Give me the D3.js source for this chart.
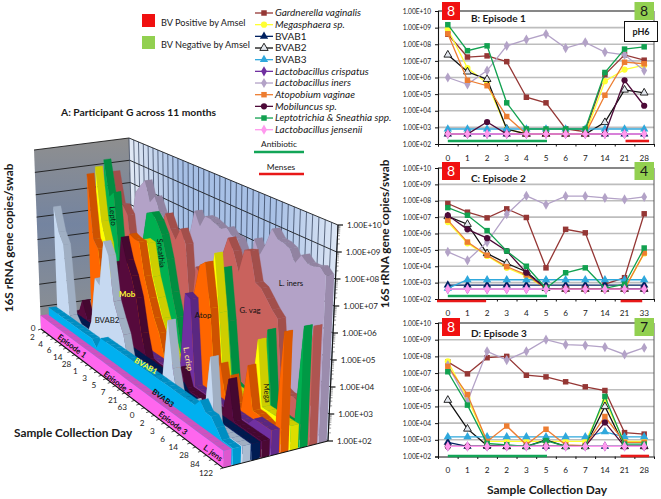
<!DOCTYPE html>
<html>
<head>
<meta charset="utf-8">
<script src="https://cdnjs.cloudflare.com/ajax/libs/d3/7.8.5/d3.min.js"></script>
<style>
  body { margin: 0; background: #fff; }
  svg { display: block; }
  text { font-family: Lato, "Open Sans", sans-serif; fill: #1a1a1a; }
</style>
</head>
<body>
<svg width="661" height="499"></svg>
<script>
// sampling days of all three episodes, one after the other
const days = [0,1,2,3,4,5,6,7,14,21,28, 0,1,2,3,4,5,6,7,14,21,33, 63,70, 0,1,2,2,3,5,6,7,14,21,28, 56,84,98,122];

// 16S copies per swab, same index as days
const gard  = [4e8,1.7e7,2e7,9e6,6.5e4,3e4,800,550,1.5e6,2.3e7,1.1e7, 6.8e7,2e7,9e6,3.2e7,9.5e6,8e3,1.8e6,1.1e6,800,2e3,1.6e7, 2e7,1.2e8, 4.7e7,9e6,8.3e7,1e8,7.4e6,5.9e6,3e6,1.5e6,9e5,2.7e3,2.2e3, 2.5e3,2e3,2e3,2.5e6];
const mega  = [8e8,3.7e6,4.5e5,800,400,400,400,400,6e5,3e6,5.5e6, 5e6,2.5e5,4.3e4,8e3,2.5e3,450,400,400,400,400,6e4, 1e3,1e6, 5e7,3e5,800,800,800,800,800,800,2e5,800,800, 800,800,800,800];
const bvab1 = [400,400,400,400,400,400,400,400,400,400,400, 700,700,700,700,700,700,700,700,700,700,700, 600,600, 700,400,400,400,400,400,400,400,400,400,400, 400,400,400,400];
const bvab2 = [2.3e7,2.2e6,7.8e5,800,400,400,400,400,2e3,1.8e5,1.2e5, 1.1e7,3.7e6,6e4,1.5e4,4.6e3,450,400,400,400,400,400, 400,1e3, 2.4e5,4.5e3,450,400,400,1e3,400,400,1e5,400,400, 400,400,400,400];
const bvab3 = [800,800,800,800,800,800,800,800,800,800,800, 450,1500,1500,1500,1500,1500,1500,1500,1500,1500,1500, 1500,1500, 1500,1500,1500,1500,1500,1500,1500,1500,3e3,1500,1500, 800,400,400,400];
const crisp = [400,400,400,400,400,400,400,400,400,400,400, 400,400,400,400,400,400,400,400,400,400,400, 1e6,8e5, 400,400,400,400,400,400,400,400,400,400,400, 800,800,800,800];
const iners = [1e6,3.9e5,2.6e6,8e7,1.9e8,4.1e8,5.9e7,1.3e8,3.4e7,2.3e7,2.6e6, 7.5e4,2.3e4,3e5,1.5e7,2e8,5.8e7,1.9e8,1.9e8,1.5e8,1.2e8,1.7e8, 1e8,1e8, 3e7,2e5,2e8,6e7,2e8,1e9,5e8,4.6e8,3.6e8,1.3e8,3.3e8, 2e8,2e8,2.5e8,1.5e8];
const atop  = [4.3e8,6.8e5,3.2e5,4.5e3,400,400,400,400,8.6e4,8.3e6,6.7e6, 6.5e6,3e5,4.7e4,9.5e3,3e3,450,400,400,400,400,6.5e4, 1e6,1.5e7, 2.5e7,5.2e5,800,6.7e3,500,4.3e3,500,450,2.5e4,700,700, 600,500,500,2.5e6];
const mob   = [400,400,2.1e3,400,400,400,400,400,400,6.8e5,2e4, 1.3e7,1.8e6,5.2e5,8.5e4,4e3,450,400,400,400,400,400, 800,2e3, 400,400,400,400,400,400,400,400,1.1e4,400,400, 400,400,400,400];
const lepto = [1.5e9,4.1e7,8e7,3e4,800,800,800,800,2e6,5.1e7,7e7, 3.8e7,1.3e7,1.5e6,8.5e4,1e4,450,4e3,8e3,450,800,1.3e5, 1e4,1e6, 1.2e7,1.2e5,600,500,400,900,400,400,4e5,550,550, 500,500,500,2.9e6];
const jens  = [400,400,400,400,400,400,400,400,400,400,400, 400,400,400,400,400,400,400,400,400,400,400, 400,400, 400,400,400,400,400,400,400,400,400,400,400, 400,400,400,400];

const legendNames = ["Gardnerella vaginalis","Megasphaera sp.","BVAB1","BVAB2","BVAB3","Lactobacillus crispatus","Lactobacillus iners","Atopobium vaginae","Mobiluncus sp.","Leptotrichia & Sneathia spp.","Lactobacillus jensenii"];
const legendItalic = [true,true,false,false,false,true,true,true,true,true,true];
const lineValues = [gard,mega,bvab1,bvab2,bvab3,crisp,iners,atop,mob,lepto,jens];
const lineColors = ["#953735","#ffff33","#002060","#111111","#2fa8dc","#7030a0","#b3a2c7","#ed7d31","#4d0a38","#12a150","#ff99ee"];
const lineSymbols = [d3.symbolSquare,d3.symbolCircle,d3.symbolTriangle,d3.symbolTriangle,d3.symbolTriangle,d3.symbolDiamond,d3.symbolDiamond,d3.symbolSquare,d3.symbolCircle,d3.symbolSquare,d3.symbolDiamond];

// 3D area chart, front row first
const areaValues = [jens,bvab3,bvab2,bvab1,mob,crisp,atop,mega,lepto,gard,iners];
const areaColors = ["#ff66ee","#00b0f0","#c6d9f1","#002060","#560a3c","#7030a0","#ff6600","#ffff00","#00b050","#c9625d","#b3a2c7"];
const areaNames = ["jens","bvab3","bvab2","bvab1","mob","crisp","atop","mega","lepto","gard","iners"];

const decades = [1e2,1e3,1e4,1e5,1e6,1e7,1e8,1e9,1e10];
const sci = d => { const e = Math.round(Math.log10(d)); return "1.00E+" + (e < 10 ? "0" + e : e); };

const svg = d3.select("svg");
const defs = svg.append("defs");

// ---------- 3D chart ----------
// box corners in the picture
const box = {
  floorL: [41,329], floorF: [223,468], floorR: [328,441], floorB: [134,316],
  topL: [34,150], topF: [228,240], topR: [338,225], topB: [129,138]
};
const scDay = d3.scaleLinear().domain([0, days.length - 1]).range([0, 1]);
const scRow = d3.scaleBand().domain(areaNames).range([0, 1]);
const scLog = d3.scaleLog().domain([1e2, 1e10]).range([0, 1]);
const persp = 1.17;

function lerp(a, b, t) { return [a[0] + (b[0] - a[0]) * t, a[1] + (b[1] - a[1]) * t]; }

// u along days, v into the depth, w up
function project(u, v, w) {
  const f = u / (u + persp * (1 - u));
  const low = lerp(lerp(box.floorL, box.floorF, f), lerp(box.floorB, box.floorR, f), v);
  const high = lerp(lerp(box.topL, box.topF, f), lerp(box.topB, box.topR, f), v);
  return lerp(low, high, w);
}
const poly = d3.line();

const wallL = defs.append("linearGradient").attr("id", "wallL").attr("x1", 0).attr("y1", 0).attr("x2", 0).attr("y2", 1);
wallL.append("stop").attr("offset", 0).attr("stop-color", "#8f8f8f");
wallL.append("stop").attr("offset", .45).attr("stop-color", "#7484a0");
wallL.append("stop").attr("offset", 1).attr("stop-color", "#8d9092");
const wallR = defs.append("linearGradient").attr("id", "wallR").attr("x1", 0).attr("y1", 0).attr("x2", 1).attr("y2", 0);
wallR.append("stop").attr("offset", 0).attr("stop-color", "#e3eaf5");
wallR.append("stop").attr("offset", .25).attr("stop-color", "#a6bfe5");
wallR.append("stop").attr("offset", .7).attr("stop-color", "#a9c1e6");
wallR.append("stop").attr("offset", 1).attr("stop-color", "#dde7f5");

const chart3d = svg.append("g");
chart3d.append("path").attr("fill", "url(#wallL)")
  .attr("d", poly([box.topL, box.topB, box.floorB, box.floorL]) + "Z");
chart3d.append("path").attr("fill", "url(#wallR)")
  .attr("d", poly([box.topB, box.topR, box.floorR, box.floorB]) + "Z");

// wall grid
decades.forEach(d => {
  chart3d.append("path").attr("stroke", "#1a1a1a").attr("stroke-width", .9).attr("fill", "none")
    .attr("d", poly([project(0, 0, scLog(d)), project(0, 1, scLog(d)), project(1, 1, scLog(d))]));
});
days.forEach((d, i) => {
  chart3d.append("path").attr("stroke", "#27344d").attr("stroke-width", .7).attr("fill", "none")
    .attr("d", poly([project(scDay(i), 1, 1), project(scDay(i), 1, 0)]));
});

// rows from back to front
d3.range(areaNames.length - 1, -1, -1).forEach(r => {
  const vals = areaValues[r];
  const v0 = scRow(areaNames[r]);
  const v1 = v0 + scRow.bandwidth() * 0.85;
  const col = areaColors[r];
  const dark = d3.color(col).darker(0.6).formatHex();
  const g = chart3d.append("g");

  // sloped top surfaces
  g.selectAll("path.top").data(d3.range(vals.length - 1)).join("path")
    .attr("class", "top").attr("fill", dark).attr("stroke", dark).attr("stroke-width", .3)
    .attr("d", i => poly([
      project(scDay(i), v0, scLog(vals[i])), project(scDay(i + 1), v0, scLog(vals[i + 1])),
      project(scDay(i + 1), v1, scLog(vals[i + 1])), project(scDay(i), v1, scLog(vals[i]))
    ]) + "Z");

  // end cap at the last sample
  const last = vals.length - 1;
  g.append("path").attr("fill", d3.color(col).darker(0.4).formatHex())
    .attr("d", poly([
      project(1, v0, 0), project(1, v0, scLog(vals[last])),
      project(1, v1, scLog(vals[last])), project(1, v1, 0)
    ]) + "Z");

  // front face
  const face = vals.map((d, i) => project(scDay(i), v0, scLog(d)));
  face.push(project(1, v0, 0), project(0, v0, 0));
  g.append("path").attr("fill", col).attr("d", poly(face) + "Z");
});

// right value axis
chart3d.append("path").attr("stroke", "#111").attr("stroke-width", 1.1).attr("fill", "none")
  .attr("d", poly([project(1, 1, 0), project(1, 1, 1)]));
decades.forEach(d => {
  const p = project(1, 1, scLog(d));
  chart3d.append("line").attr("x1", p[0]).attr("x2", p[0] + 5).attr("y1", p[1]).attr("y2", p[1]).attr("stroke", "#111").attr("stroke-width", 1.2);
  [2,3,4,5,6,7,8,9].forEach(m => {
    if (d * m >= 1e10) return;
    const q = project(1, 1, scLog(d * m));
    chart3d.append("line").attr("x1", q[0]).attr("x2", q[0] + 2.5).attr("y1", q[1]).attr("y2", q[1]).attr("stroke", "#333").attr("stroke-width", .5);
  });
  chart3d.append("text").attr("x", p[0] + 9).attr("y", p[1] + 3).attr("font-size", 8.1).text(sci(d));
});

// day axis along the front
chart3d.append("path").attr("stroke", "#111").attr("stroke-width", 1.1).attr("fill", "none")
  .attr("d", poly([project(0, 0, 0), project(1, 0, 0), project(1, 1, 0)]));
days.forEach((d, i) => {
  const p = project(scDay(i), 0, 0);
  chart3d.append("line").attr("x1", p[0]).attr("y1", p[1]).attr("x2", p[0] - 3).attr("y2", p[1] + 1).attr("stroke", "#111").attr("stroke-width", .7);
  if (i % 2 === 0) {
    const dx = i === 0 ? -8 : -17, dy = i === 0 ? 1.5 : 4.5 + i * 0.08;
    chart3d.append("text").attr("x", p[0] + dx).attr("y", p[1] + dy).attr("text-anchor", "middle")
      .attr("font-size", 8.2).text(d);
  }
});

// labels on the rows: [text, x, y, rotate, colour, bold]
const rowLabels = [
  ["Episode 1", 72, 346, 37, "#111", true],
  ["Episode 2", 118, 383, 37, "#111", true],
  ["Episode 3", 173, 423, 37, "#111", true],
  ["L. jens", 213, 453, 37, "#111", true],
  ["BVAB3", 163, 398, 37, "#111", true],
  ["BVAB1", 146, 366, 30, "#ffff33", true],
  ["BVAB2", 107, 320, 0, "#111", false],
  ["Mob", 127, 294, 0, "#ffff33", true],
  ["L. crisp", 188, 359, 80, "#f3d792", true],
  ["Atop", 203, 315, 0, "#111", false],
  ["G. vag", 250, 310, 0, "#111", false],
  ["L. iners", 291, 283, 0, "#111", false],
  ["Mega", 267, 393, 85, "#111", false],
  ["Lepto", 113, 216, 85, "#111", false],
  ["Sneathia", 161, 253, 85, "#111", false]
];
rowLabels.forEach(l => {
  svg.append("text").attr("transform", `translate(${l[1]},${l[2]}) rotate(${l[3]})`)
    .attr("text-anchor", "middle").attr("dy", "0.35em").attr("font-size", 7.8)
    .attr("font-weight", l[5] ? 700 : 400).style("fill", l[4]).text(l[0]);
});

svg.append("text").attr("x", 61).attr("y", 115.5).attr("font-size", 10.3).attr("font-weight", 700).text("A: Participant G across 11 months");
svg.append("text").attr("x", 14).attr("y", 437).attr("font-size", 11.8).attr("font-weight", 700).text("Sample Collection Day");
svg.append("text").attr("transform", "translate(13,238) rotate(-90)").attr("text-anchor", "middle")
  .attr("font-size", 11.8).attr("font-weight", 700).text("16S rRNA gene copies/swab");

// ---------- line panels ----------
const panelLeft = 438, panelRight = 654;

function symbolPath(idx, size) { return d3.symbol().type(lineSymbols[idx]).size(size)(); }

function drawPanel(p) {
  const g = svg.append("g");
  const idx = d3.range(p.from, p.from + 11);
  const x = d3.scaleBand().domain(idx).range([panelLeft, panelRight]);
  const xEdge = d3.scaleLinear().domain([0, 11]).range([panelLeft, panelRight]);
  const y = d3.scaleLog().domain([1e2, 1e10]).range([p.bottom, p.top]);
  const cx = i => x(i) + x.bandwidth() / 2;

  decades.slice(1, 8).forEach(d => {
    g.append("line").attr("x1", panelLeft).attr("x2", panelRight).attr("y1", y(d)).attr("y2", y(d))
      .attr("stroke", "#bdbdbd").attr("stroke-width", 1.6);
  });
  g.append("line").attr("x1", panelLeft).attr("x2", panelRight).attr("y1", p.top).attr("y2", p.top).attr("stroke", "#111").attr("stroke-width", 1.1);
  g.append("line").attr("x1", panelRight).attr("x2", panelRight).attr("y1", p.top).attr("y2", p.bottom).attr("stroke", "#555").attr("stroke-width", 1);

  const axY = g.append("g").attr("transform", `translate(${panelLeft},0)`)
    .call(d3.axisLeft(y).tickValues(decades).tickFormat(sci).tickSize(3).tickPadding(4));
  axY.selectAll("text").attr("font-size", 6.6).style("font-family", "Lato, sans-serif");
  axY.selectAll("line,path").attr("stroke", "#111");
  axY.select("path").attr("stroke-width", 1.1);

  const axEdge = g.append("g").attr("transform", `translate(0,${p.bottom})`)
    .call(d3.axisBottom(xEdge).ticks(11).tickFormat("").tickSize(2.5));
  axEdge.selectAll("line,path").attr("stroke", "#111");
  const axX = g.append("g").attr("transform", `translate(0,${p.bottom + 7})`)
    .call(d3.axisBottom(x).tickFormat(i => days[i]).tickSize(0).tickPadding(4));
  axX.select("path").remove();
  axX.selectAll("text").attr("font-size", 8.2).style("font-family", "Lato, sans-serif");

  const line = d3.line().x(i => cx(i));
  lineValues.forEach((vals, s) => {
    const open = legendNames[s] === "BVAB2";
    g.append("path").attr("fill", "none").attr("stroke", lineColors[s]).attr("stroke-width", 1.3)
      .attr("d", line.y(i => y(vals[i]))(idx));
    g.selectAll(null).data(idx).join("path")
      .attr("transform", i => `translate(${cx(i)},${y(vals[i])})`)
      .attr("d", symbolPath(s, open ? 26 : 30))
      .attr("fill", open ? "#e4e8ef" : lineColors[s])
      .attr("stroke", open ? "#111" : "none").attr("stroke-width", .9);
  });

  // treatment and menses bars
  p.bars.forEach(b => {
    g.append("line").attr("x1", xEdge(b[0])).attr("x2", xEdge(b[1])).attr("y1", b[2]).attr("y2", b[2])
      .attr("stroke", b[3]).attr("stroke-width", 2.6);
  });

  // Amsel score boxes
  g.append("rect").attr("x", 442).attr("y", p.boxY).attr("width", 18).attr("height", 18).attr("fill", "#f01010");
  g.append("text").attr("x", 451).attr("y", p.boxY + 14).attr("text-anchor", "middle").attr("font-size", 14).style("fill", "#fff").text(p.red);
  g.append("rect").attr("x", 634.5).attr("y", p.boxY).attr("width", 19.5).attr("height", 18).attr("fill", "#92d050");
  g.append("text").attr("x", 644).attr("y", p.boxY + 14).attr("text-anchor", "middle").attr("font-size", 14).text(p.green);

  g.append("text").attr("x", 471).attr("y", p.titleY).attr("font-size", 10).attr("font-weight", 700).text(p.title);
}

const gGreen = "#12a557", gRed = "#e81818";
drawPanel({ from: 0, top: 11, bottom: 144, boxY: 2, red: 8, green: 8, title: "B: Episode 1", titleY: 22,
  bars: [[0.5, 5.55, 141, gGreen], [9.55, 10.75, 141, gRed]] });
drawPanel({ from: 11, top: 168, bottom: 299, boxY: 162, red: 8, green: 4, title: "C: Episode 2", titleY: 182,
  bars: [[0.5, 5.55, 296, gGreen], [-0.05, 2.45, 301, gRed], [9.3, 10.4, 301, gRed]] });
drawPanel({ from: 24, top: 323, bottom: 456.5, boxY: 318, red: 8, green: 7, title: "D: Episode 3", titleY: 337,
  bars: [[0.5, 5.55, 456, gGreen], [9.3, 10.75, 456, gRed]] });

// pH box
svg.append("rect").attr("x", 624.5).attr("y", 21.5).attr("width", 33).attr("height", 20).attr("fill", "#fff").attr("stroke", "#111").attr("stroke-width", 1);
svg.append("text").attr("x", 641).attr("y", 35).attr("text-anchor", "middle").attr("font-size", 9).attr("font-weight", 700).text("pH6");

svg.append("text").attr("transform", "translate(389,234) rotate(-90)").attr("text-anchor", "middle")
  .attr("font-size", 11.8).attr("font-weight", 700).text("16S rRNA gene copies/swab");
svg.append("text").attr("x", 547).attr("y", 494).attr("text-anchor", "middle")
  .attr("font-size", 12).attr("font-weight", 700).text("Sample Collection Day");

// ---------- legends ----------
svg.append("rect").attr("x", 142).attr("y", 14).attr("width", 13).attr("height", 13).attr("fill", "#f01010");
svg.append("text").attr("x", 161).attr("y", 26).attr("font-size", 9.2).text("BV Positive by Amsel");
svg.append("rect").attr("x", 142).attr("y", 36).attr("width", 13).attr("height", 13).attr("fill", "#92d050");
svg.append("text").attr("x", 161).attr("y", 48).attr("font-size", 9.2).text("BV Negative by Amsel");

const scLegend = d3.scaleLinear().domain([0, 10]).range([13, 129.7]);
legendNames.forEach((name, s) => {
  const yy = scLegend(s);
  const open = name === "BVAB2";
  svg.append("line").attr("x1", 255).attr("x2", 273).attr("y1", yy).attr("y2", yy).attr("stroke", lineColors[s]).attr("stroke-width", 1.3);
  svg.append("path").attr("transform", `translate(264,${yy})`).attr("d", symbolPath(s, 30))
    .attr("fill", open ? "#e4e8ef" : lineColors[s]).attr("stroke", open ? "#111" : "none").attr("stroke-width", .9);
  svg.append("text").attr("x", 275).attr("y", yy + 3.2).attr("font-size", 10)
    .attr("font-style", legendItalic[s] ? "italic" : "normal").text(name);
});

svg.append("text").attr("x", 279).attr("y", 147).attr("text-anchor", "middle").attr("font-size", 8.4).text("Antibiotic");
svg.append("line").attr("x1", 254).attr("x2", 304).attr("y1", 152).attr("y2", 152).attr("stroke", gGreen).attr("stroke-width", 2.6);
svg.append("text").attr("x", 281).attr("y", 169.5).attr("text-anchor", "middle").attr("font-size", 8.4).text("Menses");
svg.append("line").attr("x1", 259).attr("x2", 304).attr("y1", 174).attr("y2", 174).attr("stroke", gRed).attr("stroke-width", 2.6);
</script>
</body>
</html>
